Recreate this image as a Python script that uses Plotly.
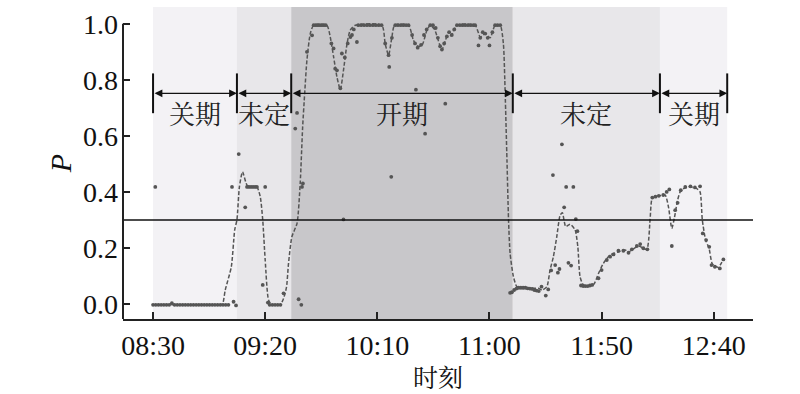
import plotly.graph_objects as go

# minutes after 08:30
tick_vals = [0, 50, 100, 150, 200, 250]
tick_text = ["08:30", "09:20", "10:10", "11:00", "11:50", "12:40"]
y_ticks = [0.0, 0.2, 0.4, 0.6, 0.8, 1.0]
y_text = ["0.0", "0.2", "0.4", "0.6", "0.8", "1.0"]

threshold = 0.3

# phase boundaries (minutes after 08:30) and labels
bounds = [0, 37.4, 61.6, 160.4, 226, 256]
phase_names = ["关期", "未定", "开期", "未定", "关期"]
phase_fill = ["#f3f2f5", "#e8e7ea", "#c8c7ca", "#e8e7ea", "#f3f2f5"]

# smoothed curve (dashed)
curve_t = [0, 10, 20, 30, 31, 32.2, 34.9, 36.4, 37.4, 38.5, 39.9, 41.9, 44, 46.3, 47.8, 48.9,
           50, 51.5, 53, 56.7, 58.2, 59.5, 60.4, 61.9, 64.2, 65.6, 66.7, 67.6, 68.6, 70.1,
           71.6, 77.5, 79, 80.5, 82, 83.5, 84.9, 86.5, 87.9, 90.2, 102, 103.5, 105, 106.5,
           107.7, 113.9, 116.1, 118, 119.9, 122.1, 123.6, 125.5, 128.8, 131, 133, 135.5,
           143.6, 145.9, 148.1, 150.3, 152.5, 154.8, 156.2, 157, 157.8, 158.5, 159.2, 160.7,
           162.2, 164.4, 168, 171.8, 173.5, 175.6, 177, 178.5, 180, 181.5, 182.5, 184, 186,
           188.2, 189.4, 190.4, 191.9, 196.3, 198.6, 200.8, 203.8, 207.5, 210.5, 212, 216.4,
           220.1, 221.6, 222.6, 225.3, 228.3, 229.8, 231.3, 232.4, 233.9, 235.4, 238.7, 242.4,
           243.9, 244.9, 246.4, 247.9, 249.4, 252, 254.3]
curve_p = [-0.003, -0.003, -0.003, -0.003, 0.0, 0.05, 0.133, 0.264, 0.30, 0.418, 0.472, 0.424,
           0.418, 0.418, 0.383, 0.30, 0.157, 0.014, -0.003, -0.003, 0.02, 0.06, 0.145, 0.24,
           0.288, 0.43, 0.632, 0.751, 0.87, 0.965, 0.995, 0.995, 0.953, 0.882, 0.81, 0.765,
           0.834, 0.929, 0.977, 0.995, 0.995, 0.929, 0.888, 0.953, 0.995, 0.995, 0.941, 0.92,
           0.923, 0.977, 0.995, 0.98, 0.908, 0.953, 0.96, 0.995, 0.995, 0.953, 0.965, 0.95,
           0.995, 0.995, 0.929, 0.751, 0.513, 0.30, 0.18, 0.097, 0.062, 0.056, 0.056, 0.056,
           0.05, 0.062, 0.121, 0.169, 0.24, 0.317, 0.326, 0.276, 0.285, 0.264, 0.204, 0.097,
           0.068, 0.068, 0.109, 0.145, 0.175, 0.186, 0.193, 0.186, 0.207, 0.195, 0.30, 0.377,
           0.385, 0.389, 0.347, 0.27, 0.305, 0.371, 0.406, 0.418, 0.412, 0.40, 0.30, 0.228,
           0.199, 0.143, 0.131, 0.159]

# observed points
dot_t = [0, 1.2, 2.4, 3.6, 4.8, 6, 7.2, 8.4, 9.6, 10.8, 12, 13.2, 14.4, 15.6, 16.8, 18, 19.2,
         20.4, 21.6, 22.8, 24, 25.2, 26.4, 27.6, 28.8, 30, 31.2, 32.4, 33.6,
         1.0, 35.2, 35.9, 37.0, 38.2, 41.1, 41.9, 42.8, 43.7, 44.6, 45.5, 46.3, 50, 48.9,
         51.2, 52, 53.2, 54.4, 55.6, 56.8, 58.2,
         63.4, 64.2, 64.9, 66.1, 66.4, 66.8, 68.6, 70.9, 71.6, 72.5, 73.4, 74.3, 75.2, 76.1, 77.0,
         79.5, 80.5, 81.2, 82, 83.5, 84.2, 84.9, 85.5, 86.8, 88.0, 88.7, 89.5, 90.9,
         91.5, 92.8, 94.1, 95.4, 96.7, 98, 99.3, 100.6, 101.9,
         103.5, 105, 105.3, 106.5, 106.2, 108, 109.2, 110.4, 111.6, 112.8, 113.9,
         115.5, 116.8, 118, 119.5, 120.8, 122, 123.6, 124.8, 126, 127, 128, 128.8, 129.8, 131,
         132, 133.2, 134.3, 135.5, 117.2, 121.3, 130.3,
         136.8, 138, 139.2, 140.4, 141.6, 142.8, 143.6,
         145.1, 145.9, 147, 148.1, 149.2, 150, 151.3, 152.5, 153.6, 154.8,
         159.2, 160, 161, 162, 163, 164, 165, 166, 167, 168, 169, 170, 171, 172, 173.2, 175.1, 176.2,
         177.5, 178.3, 179.3, 180.5, 181.2, 182.3, 183.3, 184.2, 185.2, 186.4, 187.4, 188.5, 189.2,
         190.8, 191.8, 192.8, 193.8, 194.8, 195.8,
         198.6, 200, 202.3, 203.8, 205.3, 207.5, 209.7, 212, 213.5, 215.7, 217.2, 218.6, 220.4,
         222.6, 224, 225.5, 227.5, 229, 230.2, 231.3, 232.8, 233.9, 235.3, 237.3, 239.6, 241.6,
         243.9, 245.1, 246.6, 248, 249, 250.5, 252.7, 254.3]
dot_p = [-0.003, -0.003, -0.003, -0.003, -0.003, -0.003, -0.003, 0.003, -0.003, -0.003, -0.003,
         -0.003, -0.003, -0.003, -0.003, -0.003, -0.003, -0.003, -0.003, -0.003, -0.003, -0.003,
         -0.003, -0.003, -0.003, -0.003, -0.003, -0.003, -0.003,
         0.418, 0.418, 0.008, -0.005, 0.535, 0.345, 0.418, 0.418, 0.418, 0.418, 0.418, 0.418,
         0.418, 0.068,
         0.005, -0.003, -0.003, -0.003, -0.003, -0.003, 0.038,
         0.626, 0.682, 0.017, -0.003, 0.418, 0.43, 0.9, 0.959, 0.995, 0.995, 0.995, 0.995, 0.995,
         0.995, 0.995,
         0.93, 0.912, 0.84, 0.834, 0.77, 0.894, 0.302, 0.88, 0.93, 0.953, 0.96, 0.98, 0.935,
         0.995, 0.995, 0.995, 0.995, 0.995, 0.995, 0.995, 0.995, 0.995,
         0.93, 0.888, 0.846, 0.95, 0.454, 0.995, 0.995, 0.995, 0.995, 0.995, 0.995,
         0.96, 0.93, 0.915, 0.925, 0.96, 0.98, 0.995, 0.995, 0.985, 0.95, 0.92, 0.908, 0.93, 0.955,
         0.97, 0.96, 0.98, 0.995, 0.765, 0.608, 0.715,
         0.995, 0.995, 0.995, 0.995, 0.995, 0.995, 0.995,
         0.923, 0.95, 0.97, 0.965, 0.95, 0.923, 0.97, 0.995, 0.995, 0.995,
         0.04, 0.042, 0.05, 0.055, 0.058, 0.058, 0.058, 0.058, 0.056, 0.055, 0.054, 0.05, 0.048,
         0.046, 0.062, 0.03, 0.052,
         0.12, 0.46, 0.139, 0.112, 0.125, 0.57, 0.345, 0.418, 0.147, 0.137, 0.418, 0.303, 0.26,
         0.066, 0.064, 0.064, 0.064, 0.066, 0.068,
         0.092, 0.121, 0.157, 0.169, 0.177, 0.19, 0.19, 0.183, 0.195, 0.207, 0.214, 0.199, 0.195,
         0.38, 0.383, 0.386, 0.389, 0.40, 0.409, 0.207, 0.335, 0.361, 0.406, 0.418, 0.42, 0.416,
         0.42, 0.252, 0.228, 0.204, 0.139, 0.133, 0.127, 0.159]

x_range = [-13.4, 267.5]
y_range = [-0.0535, 1.06]
arrow_y = 0.752
bar_lo, bar_hi = 0.681, 0.823
label_y = 0.685

serif = "Liberation Serif, Times New Roman, serif"
cjk = "Noto Serif CJK SC, Noto Sans CJK SC, sans-serif"

fig = go.Figure()

for i, name in enumerate(phase_names):
    fig.add_shape(type="rect", xref="x", yref="paper", x0=bounds[i], x1=bounds[i + 1],
                  y0=0, y1=1, fillcolor=phase_fill[i], line_width=0, layer="below")

fig.add_trace(go.Scatter(x=curve_t, y=curve_p, mode="lines",
                         line=dict(color="#555555", width=1.5, dash="4px,2px", shape="spline",
                                   smoothing=0.6),
                         hoverinfo="skip", showlegend=False))
fig.add_trace(go.Scatter(x=dot_t, y=dot_p, mode="markers",
                         marker=dict(color="#555555", size=3.8),
                         showlegend=False))

# threshold line
fig.add_shape(type="line", xref="paper", yref="y", x0=0, x1=1, y0=threshold, y1=threshold,
              line=dict(color="#111111", width=1.5))
# y axis line (up to 1.0 only)
fig.add_shape(type="line", xref="paper", yref="y", x0=0, x1=0, y0=y_range[0], y1=1.0,
              line=dict(color="#222222", width=2))

# phase boundary bars
for b in bounds:
    fig.add_shape(type="line", xref="x", yref="y", x0=b, x1=b, y0=bar_lo, y1=bar_hi,
                  line=dict(color="#111111", width=2))

for i, name in enumerate(phase_names):
    a, b = bounds[i], bounds[i + 1]
    fig.add_annotation(x=b, y=arrow_y, ax=a, ay=arrow_y, axref="x", ayref="y",
                       xref="x", yref="y", text="", showarrow=True,
                       arrowside="end+start", arrowhead=2, startarrowhead=2,
                       arrowsize=1.2, startarrowsize=1.2, arrowwidth=1.3, arrowcolor="#111111")
    fig.add_annotation(x=(a + b) / 2, y=label_y, text=name, showarrow=False,
                       font=dict(family=cjk, size=26, color="#222222"),
                       xref="x", yref="y")

fig.update_xaxes(range=x_range, tickvals=tick_vals, ticktext=tick_text, automargin=False,
                 ticks="inside", ticklen=7, tickwidth=1.5, tickcolor="#222222",
                 showline=True, linecolor="#222222", linewidth=2, showgrid=False,
                 zeroline=False, tickfont=dict(family=serif, size=28, color="#111111"),
                 title=dict(text="时刻", font=dict(family=cjk, size=25, color="#111111"),
                            standoff=6))
fig.update_yaxes(range=y_range, tickvals=y_ticks, ticktext=y_text, automargin=False,
                 ticks="inside", ticklen=7, tickwidth=1.5, tickcolor="#222222",
                 ticklabelstandoff=4,
                 showline=False, showgrid=False, zeroline=False,
                 tickfont=dict(family=serif, size=28, color="#111111"),
                 title=dict(text="<i>P</i>", font=dict(family=serif, size=30, color="#111111"),
                            standoff=2))

fig.update_layout(width=800, height=394, margin=dict(l=123, r=47, t=7, b=75),
                  paper_bgcolor="white", plot_bgcolor="white", showlegend=False)

fig.write_html("out.html", config={"displayModeBar": False},
               post_script="document.body.style.margin='0px';")
